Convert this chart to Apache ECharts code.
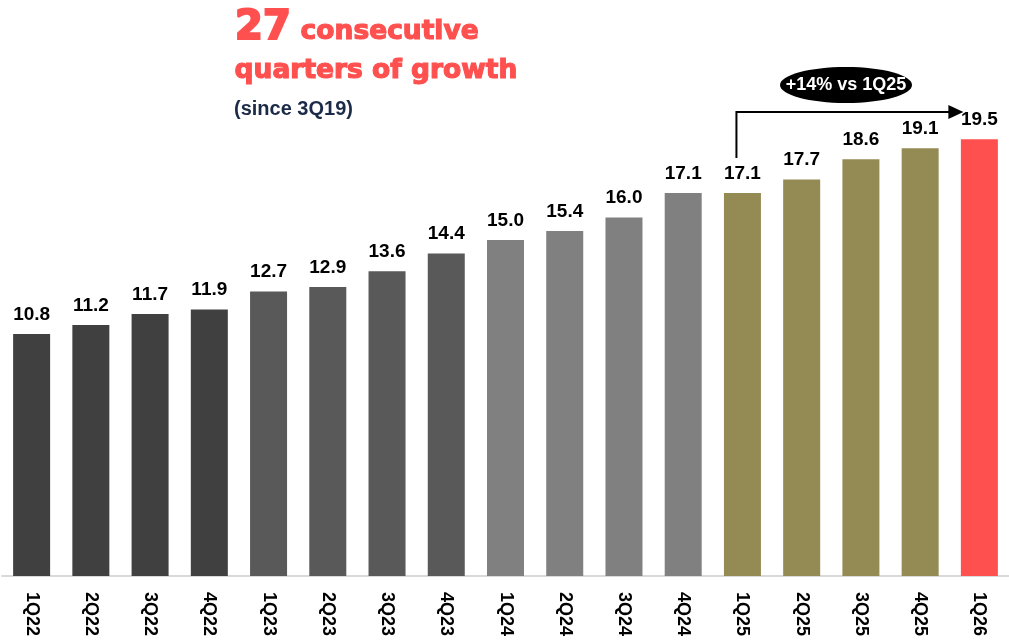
<!DOCTYPE html>
<html>
<head>
<meta charset="utf-8">
<script src="https://cdn.jsdelivr.net/npm/echarts@6/dist/echarts.min.js"></script>
<style>
  html, body { margin: 0; padding: 0; background: #fff; }
  #chart { width: 1009px; height: 644px; }
</style>
</head>
<body>
<div id="chart"></div>
<script>
// Quarterly values, 1Q22 through 1Q26
var quarters = ['1Q22', '2Q22', '3Q22', '4Q22', '1Q23', '2Q23', '3Q23', '4Q23',
                '1Q24', '2Q24', '3Q24', '4Q24', '1Q25', '2Q25', '3Q25', '4Q25', '1Q26'];
var values = [10.8, 11.2, 11.7, 11.9, 12.7, 12.9, 13.6, 14.4,
              15.0, 15.4, 16.0, 17.1, 17.1, 17.7, 18.6, 19.1, 19.5];

// Headline texts
var headlineNumber = '27';
var headlineRest = 'consecutive';
var headlineLine2 = 'quarters of growth';
var headlineNote = '(since 3Q19)';
var growthBadge = '+14% vs 1Q25';
var compareFrom = '1Q25';
var compareTo = '1Q26';

// Bar fill by year suffix of the quarter
var yearColor = { '22': '#404040', '23': '#595959', '24': '#808080', '25': '#948A54', '26': '#FF5050' };

var FONT = '"Liberation Sans", Arial, sans-serif';
var HEAVY = '"DejaVu Sans", sans-serif';
var RED = '#FF5050';

var chart = echarts.init(document.getElementById('chart'));

chart.setOption({
  animation: false,
  grid: { left: 2, width: 1010, top: 16, bottom: 68 },
  xAxis: {
    type: 'category',
    data: quarters,
    axisLine: { lineStyle: { color: '#D9D9D9', width: 2 } },
    axisTick: { show: false },
    axisLabel: {
      rotate: -90,
      margin: 16,
      color: '#000',
      fontFamily: FONT,
      fontWeight: 'bold',
      fontSize: 18
    }
  },
  yAxis: {
    type: 'value',
    min: 0,
    max: 25,
    show: false,
    splitLine: { show: false }
  },
  series: [{
    type: 'bar',
    data: values,
    barWidth: 37,
    itemStyle: {
      color: function (p) { return yearColor[quarters[p.dataIndex].slice(2)]; }
    },
    label: {
      show: true,
      position: 'top',
      distance: 10,
      color: '#000',
      fontFamily: FONT,
      fontWeight: 'bold',
      fontSize: 19,
      formatter: function (p) { return p.value.toFixed(1); }
    }
  }]
});

// Annotation: headline and the growth arrow between two quarters
var xFrom = chart.convertToPixel({ xAxisIndex: 0 }, compareFrom) - 6;
var xTo = chart.convertToPixel({ xAxisIndex: 0 }, compareTo) - 17;
var arrowY = 112;
var arrowStartY = 158;

// Heavy headline: bold face thickened with an outline in the same colour
function heavyText(text, left, top, size, stroke) {
  return {
    type: 'text', left: left, top: top,
    style: {
      text: text, fill: RED, stroke: RED, lineWidth: stroke,
      font: 'bold ' + size + 'px ' + HEAVY
    }
  };
}

chart.setOption({
  graphic: [
    heavyText(headlineNumber, 234, 8, 40, 2.2),
    heavyText(headlineRest, 300, 18, 26.5, 1.2),
    heavyText(headlineLine2, 234, 57, 26.5, 1.2),
    {
      type: 'text', left: 234, top: 99,
      style: { text: headlineNote, fill: '#1B2A47', font: 'bold 20px ' + FONT }
    },
    {
      type: 'polyline',
      shape: { points: [[xFrom, arrowStartY], [xFrom, arrowY], [xTo - 12, arrowY]] },
      style: { stroke: '#000', lineWidth: 2, fill: null }
    },
    {
      type: 'polygon',
      shape: { points: [[xTo - 14, arrowY - 7], [xTo + 1, arrowY], [xTo - 14, arrowY + 7]] },
      style: { fill: '#000' }
    },
    {
      type: 'ellipse',
      shape: { cx: 846, cy: 85, rx: 66, ry: 18 },
      style: { fill: '#000' }
    },
    {
      type: 'text', x: 846, y: 85,
      style: {
        text: growthBadge, fill: '#fff', align: 'center', verticalAlign: 'middle',
        font: 'bold 18px ' + FONT
      }
    }
  ]
});
</script>
</body>
</html>
